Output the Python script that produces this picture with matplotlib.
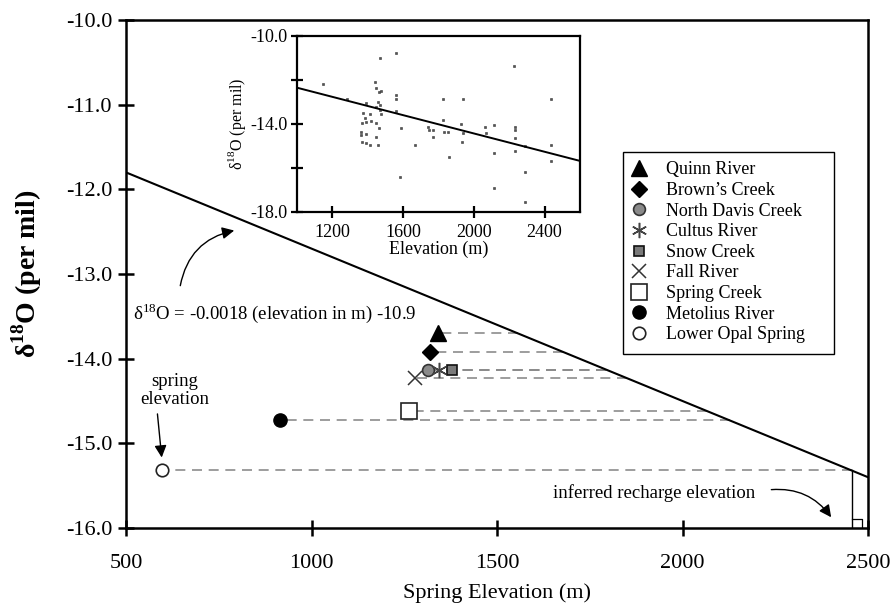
import numpy as np
import matplotlib
matplotlib.use("Agg")
import matplotlib.pyplot as plt
from matplotlib.patches import FancyArrowPatch, Rectangle

plt.rcParams['font.family'] = ['Liberation Serif', 'DejaVu Serif']
plt.rcParams['mathtext.fontset'] = 'custom'
plt.rcParams['mathtext.rm'] = 'Liberation Serif'
plt.rcParams['mathtext.bf'] = 'Liberation Serif:bold'

# ---------------- data ----------------
springs = ['Quinn River', 'Brown\u2019s Creek', 'North Davis Creek', 'Cultus River',
           'Snow Creek', 'Fall River', 'Spring Creek', 'Metolius River', 'Lower Opal Spring']
spring_elev = [1342, 1319, 1315, 1345, 1380, 1279, 1262, 916, 598]
spring_d18o = [-13.70, -13.92, -14.13, -14.13, -14.13, -14.23, -14.62, -14.73, -15.32]

fit_slope = -0.0018
fit_intercept = -10.9

# inset: precipitation samples
inset_elev = [1147, 1468, 1557, 1440, 1449, 1464, 1475, 1557, 1557, 1283, 1392, 1458, 1468,
              1445, 1468, 1477, 1562, 1373, 1411, 1383, 1420, 1370, 1392, 1445, 1464, 1364,
              1392, 1364, 1445, 1370, 1392, 1415, 1458, 1586, 1669, 1584, 1741, 1747, 1771,
              1771, 1828, 1826, 1830, 1853, 1859, 1941, 1929, 1939, 1935, 2064, 2068, 2114,
              2114, 2112, 2229, 2233, 2233, 2233, 2233, 2291, 2291, 2291, 2237, 2438, 2438, 2438]
inset_d18o = [-12.2, -11.0, -10.77, -12.11, -12.35, -12.53, -12.5, -12.7, -12.85, -12.85, -13.06,
              -12.99, -13.14, -13.25, -13.37, -13.55, -13.4, -13.49, -13.55, -13.74, -13.86,
              -13.97, -13.91, -13.94, -14.2, -14.35, -14.45, -14.5, -14.6, -14.83, -14.88,
              -14.95, -14.95, -14.2, -14.95, -16.42, -14.15, -14.27, -14.27, -14.6, -12.88,
              -13.82, -14.36, -14.36, -15.5, -12.88, -14.02, -14.39, -14.8, -14.15, -14.39,
              -14.05, -15.3, -16.91, -11.37, -14.12, -14.27, -14.63, -15.24, -14.98, -16.17,
              -17.53, -18.0, -12.85, -14.95, -15.7]
inset_fit_slope = -0.00208
inset_fit_intercept = -10.27

main_xticks = [500, 1000, 1500, 2000, 2500]
main_yticks = [-10.0, -11.0, -12.0, -13.0, -14.0, -15.0, -16.0]
inset_xticks = [1200, 1600, 2000, 2400]
inset_yticks = [-10.0, -12.0, -14.0, -16.0, -18.0]
inset_ytick_labels = ['-10.0', '', '-14.0', '', '-18.0']

# ---------------- styles ----------------
styles = [
    dict(marker='^', ms=11, mfc='black', mec='black', mew=1),
    dict(marker='D', ms=8, mfc='black', mec='black', mew=1),
    dict(marker='o', ms=8.5, mfc='#8a8a8a', mec='#333333', mew=1.2),
    dict(marker=(6, 2, 0), ms=11, mfc='#444444', mec='#444444', mew=1.1),
    dict(marker='s', ms=7, mfc='#7a7a7a', mec='#111111', mew=1.2),
    dict(marker='x', ms=10, mfc='#333333', mec='#333333', mew=1.1),
    dict(marker='s', ms=11.5, mfc='white', mec='#222222', mew=1.2),
    dict(marker='o', ms=9.5, mfc='black', mec='black', mew=1),
    dict(marker='o', ms=9, mfc='white', mec='#222222', mew=1.2),
]

W, H = 891, 608
fig = plt.figure(figsize=(W / 100, H / 100), dpi=100)
ax = fig.add_axes([126 / W, 1 - 528 / H, (868 - 126) / W, (528 - 20) / H])

ax.set_xlim(500, 2500)
ax.set_ylim(-16.0, -10.0)

# regression line
xl = np.array([500, 2500])
ax.plot(xl, fit_slope * xl + fit_intercept, color='black', lw=1.5, zorder=3)

# dashed projection lines (drawn from the regression line back to the point so
# that dashes at the same level line up) + markers
for name, x, y, st in zip(springs, spring_elev, spring_d18o, styles):
    xr = (y - fit_intercept) / fit_slope
    ax.plot([xr, x], [y, y], color='#8c8c8c', lw=1.2, dashes=(6, 4), zorder=2)
    ax.plot([x], [y], linestyle='none', zorder=5, label=name, **st)

# vertical to inferred recharge elevation for Lower Opal Spring
y_lo = spring_d18o[-1]
x_rech = (y_lo - fit_intercept) / fit_slope
ax.plot([x_rech, x_rech], [y_lo, -16.0], color='black', lw=1.0, zorder=3)
ax.plot([x_rech, x_rech + 27, x_rech + 27], [-16.0 + 0.11, -16.0 + 0.11, -16.0],
        color='black', lw=0.9, zorder=3)

# axes styling
for s in ax.spines.values():
    s.set_linewidth(1.8)
ax.set_xticks(main_xticks)
ax.set_xticklabels([str(t) for t in main_xticks])
ax.set_yticks(main_yticks)
ax.set_yticklabels([f'{t:.1f}' for t in main_yticks])
ax.tick_params(direction='inout', length=12, width=1.8, labelsize=16, pad=4)
ax.tick_params(axis='x', pad=13)
ax.set_xlabel('Spring Elevation (m)', fontsize=16, labelpad=7)
ax.set_ylabel('\u03b4$^{\\mathbf{18}}$O (per mil)', fontsize=20, fontweight='bold',
              labelpad=16)

# annotations
ax.text(519, -13.46, '\u03b4$^{18}$O = -0.0018 (elevation in m) -10.9',
        fontsize=13.5, ha='left', va='center')
ax.add_patch(FancyArrowPatch((645, -13.17), (799, -12.48),
                             connectionstyle='arc3,rad=-0.35', arrowstyle='-|>',
                             mutation_scale=18, color='black', lw=1.0))
ax.text(632, -14.38, 'spring\nelevation', fontsize=13.5, ha='center', va='center',
        linespacing=1.1)
ax.add_patch(FancyArrowPatch((584, -14.62), (597, -15.2), arrowstyle='-|>',
                             mutation_scale=18, color='black', lw=1.0))
ax.text(2195, -15.59, 'inferred recharge elevation', fontsize=13.5, ha='right', va='center')
ax.add_patch(FancyArrowPatch((2232, -15.55), (2405, -15.9),
                             connectionstyle='arc3,rad=-0.3', arrowstyle='-|>',
                             mutation_scale=18, color='black', lw=1.0))

# legend
leg = ax.legend(loc='upper left', bbox_to_anchor=(623 / W, 1 - 156 / H),
                bbox_transform=fig.transFigure, fontsize=13, frameon=False,
                handlelength=1.2, handletextpad=0.9, labelspacing=0.2,
                borderpad=0.3, borderaxespad=0, numpoints=1)
fig.patches.append(Rectangle((623 / W, 1 - 354 / H), (834 - 623) / W, (354 - 152) / H,
                             transform=fig.transFigure, fill=False, edgecolor='black',
                             lw=1.0, zorder=10))

# ---------------- inset ----------------
axi = fig.add_axes([297 / W, 1 - 212 / H, (580 - 297) / W, (212 - 36) / H])
axi.set_xlim(1000, 2600)
axi.set_ylim(-18.0, -10.0)
axi.plot(inset_elev, inset_d18o, linestyle='none', marker='s', ms=1.8,
         mfc='#555555', mec='#333333', mew=0.4)
xi = np.array([1000, 2600])
axi.plot(xi, inset_fit_slope * xi + inset_fit_intercept, color='black', lw=1.4)
for s in axi.spines.values():
    s.set_linewidth(1.6)
axi.set_xticks(inset_xticks)
axi.set_xticklabels([str(t) for t in inset_xticks])
axi.set_yticks(inset_yticks)
axi.set_yticklabels(inset_ytick_labels)
axi.tick_params(direction='inout', length=9, width=1.6, labelsize=13, pad=2)
axi.tick_params(axis='x', pad=4)
axi.set_xlabel('Elevation (m)', fontsize=13, labelpad=0)
axi.set_ylabel('\u03b4$^{18}$O (per mil)', fontsize=11.5, labelpad=2)

fig.savefig('out.png', dpi=100)
